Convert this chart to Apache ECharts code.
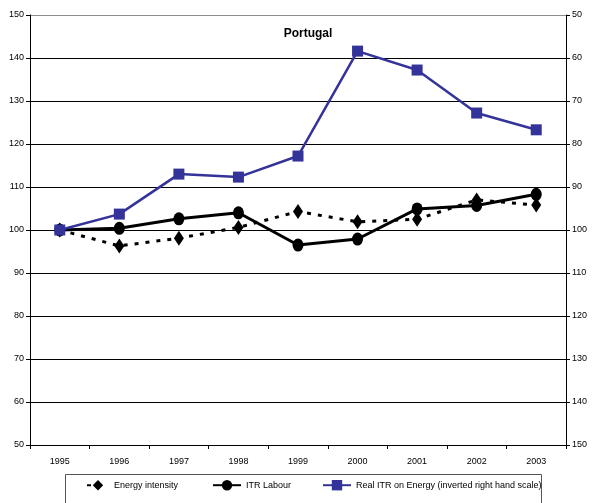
<!DOCTYPE html>
<html>
<head>
<meta charset="utf-8">
<script src="https://cdn.jsdelivr.net/npm/echarts@6/dist/echarts.min.js"></script>
<style>
  html, body { margin: 0; padding: 0; background: #fff; }
  #chart { width: 602px; height: 503px; }
</style>
</head>
<body>
<div id="chart"></div>
<script>
// Portugal: energy intensity, implicit tax rate on labour and real ITR on energy
const years = ['1995', '1996', '1997', '1998', '1999', '2000', '2001', '2002', '2003'];
const energyIntensity = [100, 96.3, 98.1, 100.6, 104.3, 101.9, 102.5, 107.0, 105.8];
const itrLabour = [100, 100.4, 102.6, 104.0, 96.5, 97.9, 104.9, 105.7, 108.3];
// plotted on the inverted right-hand scale
const realItrEnergy = [100, 96.3, 87.0, 87.7, 82.8, 58.4, 62.8, 72.8, 76.7];

const seriesNames = ['Energy intensity', 'ITR Labour', 'Real ITR on Energy (inverted right hand scale)'];

const leftTicks = { min: 50, max: 150, interval: 10 };
const rightTicks = { min: 50, max: 150, interval: 10 };

const FONT = "'Liberation Sans Narrow', 'Liberation Sans', Arial, sans-serif";
const LABEL_SIZE = 9;
const chart = echarts.init(document.getElementById('chart'));

// grid lines black, the one at the top edge grey
const gridColors = [];
for (let v = leftTicks.min; v <= leftTicks.max; v += leftTicks.interval) {
  gridColors.push(v === leftTicks.max ? '#8c8c8c' : '#000');
}

const legendText = { fontFamily: FONT, fontSize: LABEL_SIZE, color: '#000' };
function legendAt(left, width, name) {
  return {
    left: left, top: 480, itemWidth: width, itemHeight: 13, padding: 0,
    textStyle: legendText, data: [name], selectedMode: false
  };
}

chart.setOption({
  animation: false,
  backgroundColor: '#fff',
  textStyle: { fontFamily: FONT },
  title: {
    text: 'Portugal',
    left: 303,
    top: 23,
    textAlign: 'center',
    textStyle: { fontFamily: FONT, fontSize: 12, fontWeight: 'bold', color: '#000' }
  },
  grid: { left: 30, right: 36, top: 15, bottom: 58, containLabel: false },
  graphic: [{
    type: 'rect',
    shape: { x: 65.5, y: 474.5, width: 476, height: 40 },
    style: { fill: 'none', stroke: '#555', lineWidth: 1 },
    silent: true
  }],
  legend: [
    legendAt(86, 22, seriesNames[0]),
    legendAt(212, 28, seriesNames[1]),
    legendAt(322, 28, seriesNames[2])
  ],
  xAxis: {
    type: 'category',
    data: years,
    boundaryGap: true,
    axisLine: { lineStyle: { color: '#000', width: 1 } },
    axisTick: { show: true, inside: false, length: 4, lineStyle: { color: '#000' } },
    axisLabel: { fontFamily: FONT, fontSize: LABEL_SIZE, color: '#000', margin: 12 },
    splitLine: { show: false }
  },
  yAxis: [
    {
      type: 'value',
      min: leftTicks.min, max: leftTicks.max, interval: leftTicks.interval,
      position: 'left',
      axisLine: { show: true, lineStyle: { color: '#000', width: 1 } },
      axisTick: { show: true, length: 4, lineStyle: { color: '#000' } },
      axisLabel: { fontFamily: FONT, fontSize: LABEL_SIZE, color: '#000', margin: 6 },
      splitLine: { show: true, lineStyle: { color: gridColors, width: 1 } }
    },
    {
      type: 'value',
      min: rightTicks.min, max: rightTicks.max, interval: rightTicks.interval,
      inverse: true,
      position: 'right',
      axisLine: { show: true, lineStyle: { color: '#000', width: 1 } },
      axisTick: { show: true, length: 4, lineStyle: { color: '#000' } },
      axisLabel: { fontFamily: FONT, fontSize: LABEL_SIZE, color: '#000', margin: 6 },
      splitLine: { show: false }
    }
  ],
  series: [
    {
      name: seriesNames[0],
      type: 'line',
      yAxisIndex: 0,
      data: energyIntensity,
      symbol: 'diamond',
      symbolSize: [10, 15],
      showAllSymbol: true,
      lineStyle: { color: '#000', width: 3, type: [4, 7] },
      itemStyle: { color: '#000', borderWidth: 0 },
      z: 2
    },
    {
      name: seriesNames[1],
      type: 'line',
      yAxisIndex: 0,
      data: itrLabour,
      symbol: 'circle',
      symbolSize: [11, 13],
      lineStyle: { color: '#000', width: 3 },
      itemStyle: { color: '#000', borderWidth: 0 },
      z: 3
    },
    {
      name: seriesNames[2],
      type: 'line',
      yAxisIndex: 1,
      data: realItrEnergy,
      symbol: 'rect',
      symbolSize: 11,
      lineStyle: { color: '#333399', width: 2.5 },
      itemStyle: { color: '#333399', borderWidth: 0 },
      z: 4
    }
  ]
});
</script>
</body>
</html>
